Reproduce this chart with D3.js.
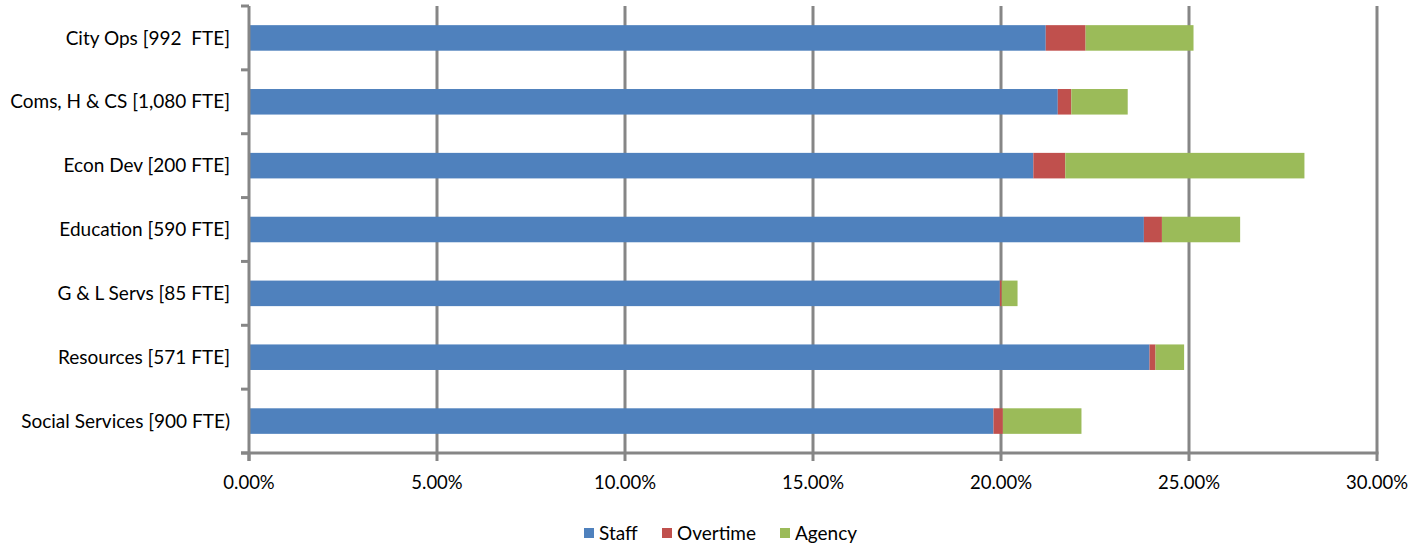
<!DOCTYPE html>
<html>
<head>
<meta charset="utf-8">
<script src="https://cdn.jsdelivr.net/npm/d3@7"></script>
<style>
  html, body { margin: 0; padding: 0; background: #fff; }
  svg text { font-family: Lato, "Open Sans", sans-serif; fill: #000; white-space: pre; }
</style>
</head>
<body>
<svg id="chart" width="1418" height="546"></svg>
<script>
// Departments (top to bottom) and their cost shares in percent
const departments = [
  "City Ops [992  FTE]",
  "Coms, H & CS [1,080 FTE]",
  "Econ Dev [200 FTE]",
  "Education [590 FTE]",
  "G & L Servs [85 FTE]",
  "Resources [571 FTE]",
  "Social Services [900 FTE)"
];
const staff    = [21.19, 21.51, 20.86, 23.80, 19.97, 23.95, 19.80];
const overtime = [1.06, 0.36, 0.85, 0.48, 0.05, 0.16, 0.25];
const agency   = [2.87, 1.50, 6.36, 2.08, 0.42, 0.76, 2.09];
const seriesNames = ["Staff", "Overtime", "Agency"];
const seriesColors = ["#4F81BD", "#C0504D", "#9BBB59"];
const xTicks = [0, 5, 10, 15, 20, 25, 30];

const svg = d3.select("#chart");
const margin = { left: 249, right: 41, top: 6, bottom: 93 };
const W = 1418, H = 546;
const innerW = W - margin.left - margin.right;
const innerH = H - margin.top - margin.bottom;
const axisGrey = "#868686";

const x = d3.scaleLinear().domain([0, 30]).range([0, innerW]);
const y = d3.scaleBand().domain(departments).range([0, innerH]).paddingInner(0.6).paddingOuter(0.3);
const yBounds = d3.scaleLinear().domain([0, departments.length]).range([0, innerH]);

const g = svg.append("g").attr("transform", `translate(${margin.left},${margin.top})`);

// Vertical gridlines
g.append("g").selectAll("line").data(xTicks.slice(1)).join("line")
  .attr("x1", d => x(d)).attr("x2", d => x(d))
  .attr("y1", 0).attr("y2", innerH)
  .attr("stroke", axisGrey).attr("stroke-width", 3);

// Stacked bars
const rows = departments.map((d, i) => ({ dept: d, Staff: staff[i], Overtime: overtime[i], Agency: agency[i] }));
const stacked = d3.stack().keys(seriesNames)(rows);
g.append("g").selectAll("g").data(stacked).join("g")
  .attr("fill", (d, i) => seriesColors[i])
  .selectAll("rect").data(d => d).join("rect")
  .attr("x", d => x(d[0]))
  .attr("width", d => x(d[1]) - x(d[0]))
  .attr("y", d => y(d.data.dept))
  .attr("height", y.bandwidth());

// Y axis line with tick marks at category boundaries
g.append("line").attr("x1", 0).attr("x2", 0).attr("y1", 0).attr("y2", innerH + 8)
  .attr("stroke", axisGrey).attr("stroke-width", 3);
g.append("g").selectAll("line").data(d3.range(departments.length + 1)).join("line")
  .attr("x1", -8).attr("x2", 0)
  .attr("y1", d => yBounds(d)).attr("y2", d => yBounds(d))
  .attr("stroke", axisGrey).attr("stroke-width", 3);

// X axis line with tick marks
g.append("line").attr("x1", -8).attr("x2", innerW + 1.5).attr("y1", innerH).attr("y2", innerH)
  .attr("stroke", axisGrey).attr("stroke-width", 3);
g.append("g").selectAll("line").data(xTicks).join("line")
  .attr("x1", d => x(d)).attr("x2", d => x(d))
  .attr("y1", innerH).attr("y2", innerH + 8)
  .attr("stroke", axisGrey).attr("stroke-width", 3);

// X tick labels
g.append("g").selectAll("text").data(xTicks).join("text")
  .attr("x", d => x(d)).attr("y", innerH + 36)
  .attr("text-anchor", "middle")
  .attr("font-size", 18.5)
  .text(d => d.toFixed(2) + "%");

// Category labels
g.append("g").selectAll("text").data(departments).join("text")
  .attr("x", -19).attr("y", d => y(d) + y.bandwidth() / 2)
  .attr("dy", "0.35em")
  .attr("text-anchor", "end")
  .attr("font-size", 19)
  .text(d => d);

// Legend
const legendX = [584, 662, 780];
const legend = svg.append("g").selectAll("g").data(seriesNames).join("g")
  .attr("transform", (d, i) => `translate(${legendX[i]},533)`);
legend.append("rect").attr("x", 0).attr("y", -5).attr("width", 10).attr("height", 10)
  .attr("fill", (d, i) => seriesColors[i]);
legend.append("text").attr("x", 15).attr("dy", "0.35em").attr("font-size", 19).text(d => d);
</script>
</body>
</html>
